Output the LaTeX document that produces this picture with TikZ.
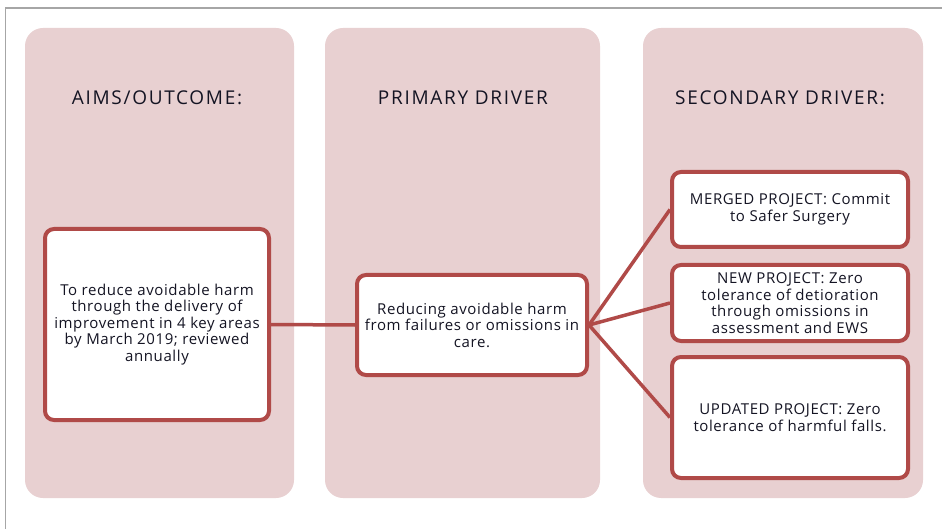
\documentclass[tikz,border=0pt]{standalone}
\usepackage{fontspec}
\setmainfont{Open Sans}
\newfontfamily\headfont[LetterSpace=9]{Open Sans}
\newfontfamily\bodyfont[LetterSpace=4]{Open Sans}
\definecolor{colfill}{RGB}{232,208,209}
\definecolor{boxred}{RGB}{176,74,72}
\definecolor{txt}{RGB}{20,20,35}
\tikzset{
  column/.style={fill=colfill, rounded corners=18pt},
  head/.style={font=\headfont\fontsize{19}{22}\selectfont, text=txt},
  item/.style={draw=boxred, fill=white, line width=4pt, rounded corners=9pt,
    align=center, text=txt, font=\bodyfont\fontsize{15}{16.5}\selectfont, inner sep=2pt},
  link/.style={draw=boxred, line width=3.5pt}
}
\begin{document}
\begin{tikzpicture}[x=1pt,y=-1pt]
\useasboundingbox (0,0) rectangle (942,529);
\draw[gray!70, line width=1.5pt] (5.5,529) -- (5.5,8) -- (942,8);
% three columns
\fill[column] (25,28) rectangle (294,498);
\fill[column] (325,28) rectangle (600,498);
\fill[column] (643,28) rectangle (923,498);
\node[head] (h1) at (157,98) {AIMS/OUTCOME:};
\node[head] (h2) at (463,98) {PRIMARY DRIVER};
\node[head] (h3) at (780,98) {SECONDARY DRIVER:};
% boxes
\node[item, minimum width=224pt, minimum height=191pt] (aim) at (157,324.5)
  {To reduce avoidable harm\\through the delivery of\\improvement in 4 key areas\\by March 2019; reviewed\\annually};
\node[item, minimum width=230pt, minimum height=100pt] (prim) at (472,325)
  {Reducing avoidable harm\\from failures or omissions in\\care.};
\node[item, minimum width=236pt, minimum height=75pt] (sec1) at (790,209.5)
  {MERGED PROJECT: Commit\\to Safer Surgery};
\node[item, minimum width=236pt, minimum height=76pt] (sec2) at (790,303)
  {NEW PROJECT: Zero\\tolerance of detioration\\through omissions in\\assessment and EWS};
\node[item, minimum width=236pt, minimum height=121pt] (sec3) at (790,417.5)
  {UPDATED PROJECT: Zero\\tolerance of harmful falls.};
% connectors
\draw[link] (aim.east) -- (prim.west);
\draw[link] (prim.east) -- (sec1.west);
\draw[link] (prim.east) -- (sec2.west);
\draw[link] (prim.east) -- (sec3.west);
\end{tikzpicture}
\end{document}
